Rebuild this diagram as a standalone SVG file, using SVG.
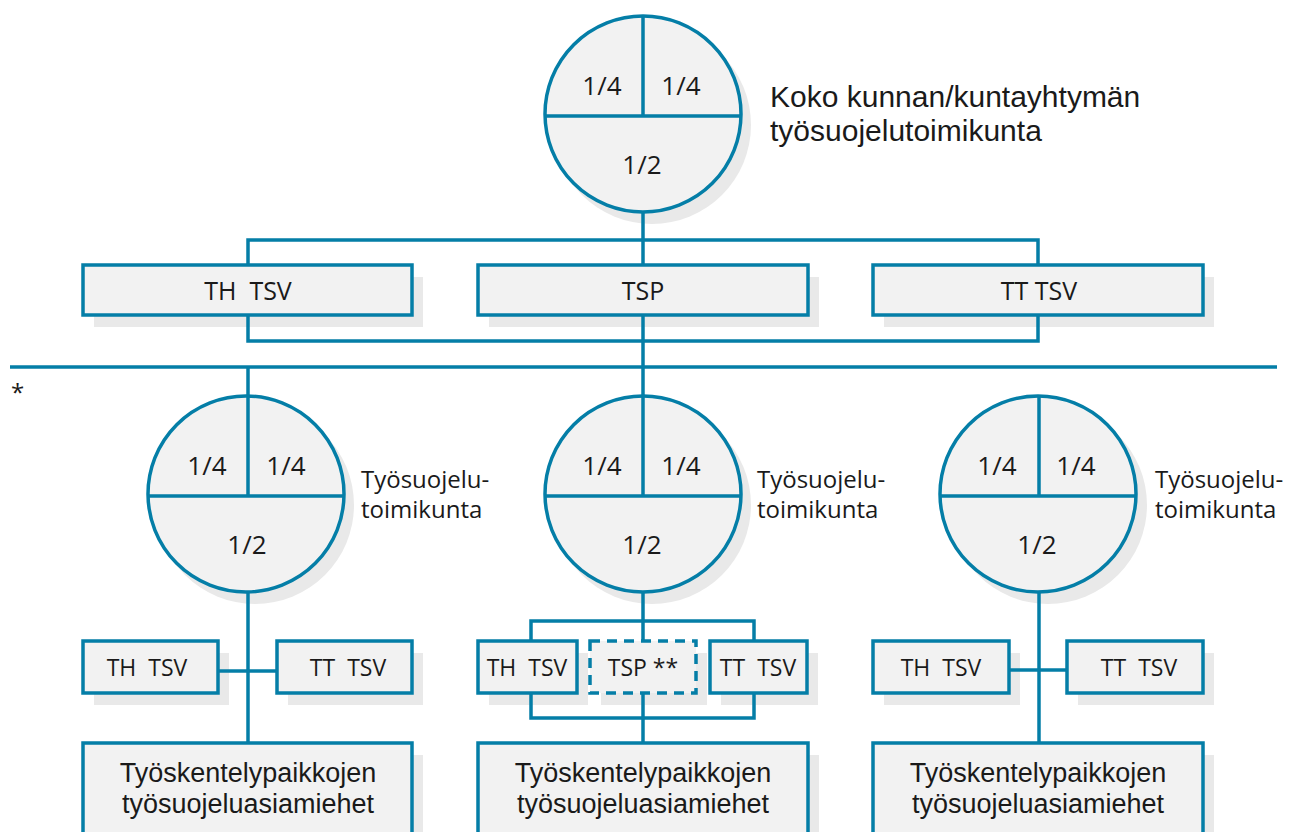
<svg xmlns="http://www.w3.org/2000/svg" width="1293" height="832" viewBox="0 0 1293 832">
<style>
  .sh { fill: #e9e9e9; }
  .nd { fill: #f2f2f2; stroke: #047ea7; stroke-width: 3.5; }
  .dash { fill: #f2f2f2; stroke: #047ea7; stroke-width: 3.5; stroke-dasharray: 10 7; }
  .ln { fill: none; stroke: #047ea7; stroke-width: 3.5; }
  text { font-family: "Open Sans", "Noto Sans", "Liberation Sans", sans-serif; fill: #1a1a1a; }
  .fr { font-size: 26px; text-anchor: middle; }
  .lbl { font-size: 24px; }
  .big { font-family: "Liberation Sans", "Open Sans", sans-serif; font-size: 30px; }
  .tb { font-size: 25px; text-anchor: middle; white-space: pre; }
  .sb { font-size: 23px; text-anchor: middle; white-space: pre; }
  .bb { font-family: "Liberation Sans", "Open Sans", sans-serif; font-size: 27px; text-anchor: middle; }
</style>
<rect width="1293" height="832" fill="#ffffff"/>

<g id="shadows">
  <circle class="sh" cx="652" cy="125" r="99"/>
  <circle class="sh" cx="255" cy="505" r="99"/>
  <circle class="sh" cx="652" cy="505" r="99"/>
  <circle class="sh" cx="1048" cy="505" r="99"/>
  <rect class="sh" x="94" y="277" width="329" height="50"/>
  <rect class="sh" x="489" y="277" width="330" height="50"/>
  <rect class="sh" x="884" y="277" width="330" height="50"/>
  <rect class="sh" x="94" y="653" width="135" height="52"/>
  <rect class="sh" x="288" y="653" width="135" height="52"/>
  <rect class="sh" x="489" y="653" width="99" height="52"/>
  <rect class="sh" x="601" y="653" width="106" height="52"/>
  <rect class="sh" x="721" y="653" width="97" height="52"/>
  <rect class="sh" x="884" y="653" width="136" height="52"/>
  <rect class="sh" x="1078" y="653" width="136" height="52"/>
  <rect class="sh" x="94" y="755" width="329" height="100"/>
  <rect class="sh" x="489" y="755" width="330" height="100"/>
  <rect class="sh" x="884" y="755" width="330" height="100"/>
</g>

<line x1="10" y1="367" x2="1277" y2="367" stroke="#047ea7" stroke-width="3.5"/>
<text x="11" y="401" style="font-size:24px">*</text>

<g id="connectors">
  <path class="ln" d="M643,213 V395"/>
  <path class="ln" d="M248,341 V240 H1038 V341 Z"/>
  <path class="ln" d="M248,367 V395"/>
  <path class="ln" d="M248,593 V743"/>
  <path class="ln" d="M218,671 H277"/>
  <path class="ln" d="M643,593 V743"/>
  <path class="ln" d="M531,641 V621 H754 V641"/>
  <path class="ln" d="M531,693 V718 H754 V693"/>
  <path class="ln" d="M1039,593 V743"/>
  <path class="ln" d="M1009,670 H1067"/>
</g>

<g id="top-committee">
  <circle class="nd" cx="643" cy="114" r="98"/>
  <path class="ln" d="M643,16 V116 M545,116 H741"/>
  <text class="fr" x="602" y="95">1/4</text>
  <text class="fr" x="681" y="95">1/4</text>
  <text class="fr" x="642" y="174">1/2</text>
  <text class="big" x="770" y="107">Koko kunnan/kuntayhtymän</text>
  <text class="big" x="770" y="141">työsuojelutoimikunta</text>
</g>

<g id="top-th-tsv">
  <rect class="nd" x="83" y="265" width="329" height="50"/>
  <text class="tb" x="248" y="300">TH  TSV</text>
</g>
<g id="top-tsp">
  <rect class="nd" x="478" y="265" width="330" height="50"/>
  <text class="tb" x="643" y="300">TSP</text>
</g>
<g id="top-tt-tsv">
  <rect class="nd" x="873" y="265" width="330" height="50"/>
  <text class="tb" x="1039" y="300">TT TSV</text>
</g>

<g id="left-committee">
  <circle class="nd" cx="246" cy="494" r="98"/>
  <path class="ln" d="M248,396 V496 M148,496 H344"/>
  <text class="fr" x="207" y="475">1/4</text>
  <text class="fr" x="286" y="475">1/4</text>
  <text class="fr" x="247" y="554">1/2</text>
  <text class="lbl" x="361" y="488">Työsuojelu-</text>
  <text class="lbl" x="361" y="518">toimikunta</text>
</g>
<g id="mid-committee">
  <circle class="nd" cx="643" cy="494" r="98"/>
  <path class="ln" d="M643,396 V496 M545,496 H741"/>
  <text class="fr" x="602" y="475">1/4</text>
  <text class="fr" x="681" y="475">1/4</text>
  <text class="fr" x="642" y="554">1/2</text>
  <text class="lbl" x="757" y="488">Työsuojelu-</text>
  <text class="lbl" x="757" y="518">toimikunta</text>
</g>
<g id="right-committee">
  <circle class="nd" cx="1038" cy="494" r="98"/>
  <path class="ln" d="M1039,396 V496 M940,496 H1136"/>
  <text class="fr" x="997" y="475">1/4</text>
  <text class="fr" x="1076" y="475">1/4</text>
  <text class="fr" x="1037" y="554">1/2</text>
  <text class="lbl" x="1155" y="488">Työsuojelu-</text>
  <text class="lbl" x="1155" y="518">toimikunta</text>
</g>

<g id="left-th-tsv">
  <rect class="nd" x="83" y="641" width="135" height="52"/>
  <text class="sb" x="147" y="676">TH  TSV</text>
</g>
<g id="left-tt-tsv">
  <rect class="nd" x="277" y="641" width="135" height="52"/>
  <text class="sb" x="348" y="676">TT  TSV</text>
</g>
<g id="mid-th-tsv">
  <rect class="nd" x="478" y="641" width="99" height="52"/>
  <text class="sb" x="527" y="676">TH  TSV</text>
</g>
<g id="mid-tsp">
  <rect class="dash" x="590" y="641" width="106" height="52"/>
  <text class="sb" x="643" y="676">TSP **</text>
</g>
<g id="mid-tt-tsv">
  <rect class="nd" x="710" y="641" width="97" height="52"/>
  <text class="sb" x="758" y="676">TT  TSV</text>
</g>
<g id="right-th-tsv">
  <rect class="nd" x="873" y="641" width="136" height="52"/>
  <text class="sb" x="941" y="676">TH  TSV</text>
</g>
<g id="right-tt-tsv">
  <rect class="nd" x="1067" y="641" width="136" height="52"/>
  <text class="sb" x="1139" y="676">TT  TSV</text>
</g>

<g id="left-representatives">
  <rect class="nd" x="83" y="743" width="329" height="110"/>
  <text class="bb" x="248" y="782">Työskentelypaikkojen</text>
  <text class="bb" x="248" y="813">työsuojeluasiamiehet</text>
</g>
<g id="mid-representatives">
  <rect class="nd" x="478" y="743" width="330" height="110"/>
  <text class="bb" x="643" y="782">Työskentelypaikkojen</text>
  <text class="bb" x="643" y="813">työsuojeluasiamiehet</text>
</g>
<g id="right-representatives">
  <rect class="nd" x="873" y="743" width="330" height="110"/>
  <text class="bb" x="1038" y="782">Työskentelypaikkojen</text>
  <text class="bb" x="1038" y="813">työsuojeluasiamiehet</text>
</g>
</svg>
